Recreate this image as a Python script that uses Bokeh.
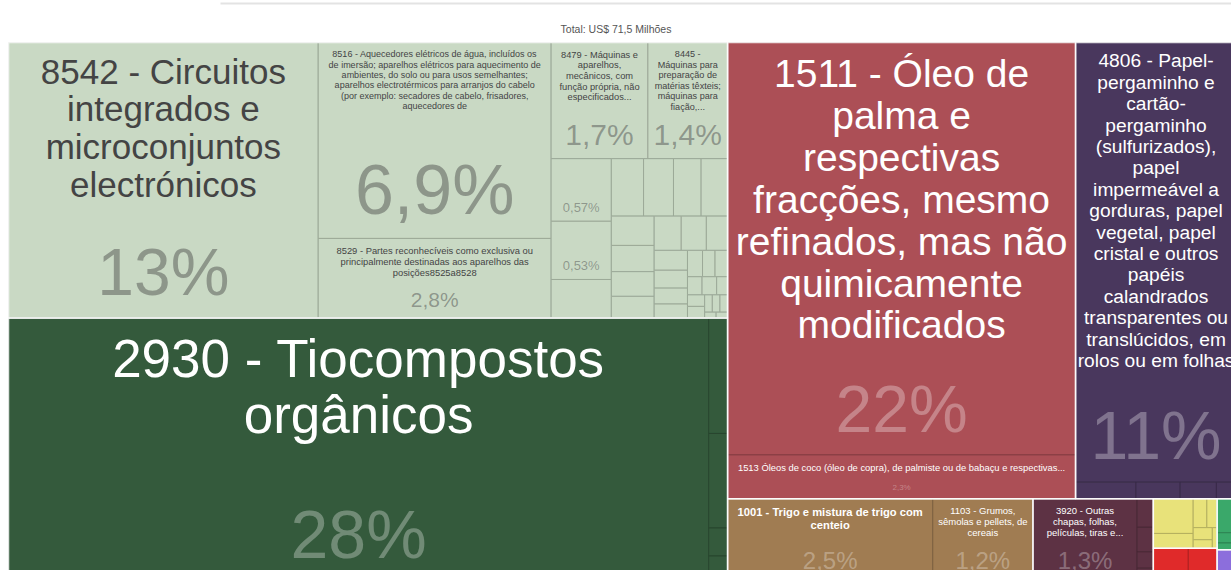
from bokeh.plotting import figure
from bokeh.models import ColumnDataSource, Range1d
from bokeh.core.properties import value
from bokeh.embed import file_html
from bokeh.resources import INLINE

TITLE = "Total: US$ 71,5 Milhões"

# ---------------- data (shares in % of total exports) ----------------
section_names = ["Máquinas", "Produtos Químicos", "Gorduras e Óleos", "Papel",
                 "Produtos Vegetais", "Plásticos e Borrachas", "Alimentos",
                 "Metais", "Têxteis", "Instrumentos"]
section_colors = ["#c9d9c4", "#345a3c", "#ac4f56", "#49375d",
                  "#a07c52", "#5d3244", "#e8e27a", "#e02a2a", "#3aa86a", "#8c6edc"]
section_light = [True, False, False, False, False, False, True, False, False, False]

maquinas_codes = ["8542", "8516", "8529", "8479", "8445"] + [""] * 31
maquinas_values = [12.9, 6.9, 2.8, 1.7, 1.4,
                   0.57, 0.53, 0.35, 0.28, 0.26, 0.24, 0.23, 0.19, 0.17, 0.16,
                   0.14, 0.14, 0.13, 0.11, 0.10, 0.09, 0.08, 0.07, 0.06, 0.05,
                   0.05, 0.04, 0.04, 0.03, 0.03, 0.03, 0.02, 0.02, 0.02, 0.01, 0.01]
quimicos_codes = ["2930", "", "", "", ""]
quimicos_values = [27.8, 0.33, 0.27, 0.08, 0.07]
gorduras_codes = ["1511", "1513"]
gorduras_values = [21.7, 2.3]
papel_codes = ["4806", "", "", "", ""]
papel_values = [10.7, 0.15, 0.11, 0.09, 0.05]
vegetais_codes = ["1001", "1103"]
vegetais_values = [2.54, 1.24]
plasticos_codes = ["3920", "", "", "", ""]
plasticos_values = [1.29, 0.07, 0.06, 0.04, 0.03]
alimentos_values = [0.21, 0.09, 0.06, 0.045, 0.035, 0.025, 0.015]
metais_values = [0.17, 0.14]
texteis_values = [0.10, 0.03, 0.02]
instrumentos_values = [0.09]

section_codes = [maquinas_codes, quimicos_codes, gorduras_codes, papel_codes,
                 vegetais_codes, plasticos_codes,
                 [""] * len(alimentos_values), [""] * len(metais_values),
                 [""] * len(texteis_values), [""] * len(instrumentos_values)]
section_values = [maquinas_values, quimicos_values, gorduras_values, papel_values,
                  vegetais_values, plasticos_values, alimentos_values,
                  metais_values, texteis_values, instrumentos_values]

label_lines = {
    "8542": ["8542 - Circuitos", "integrados e", "microconjuntos", "electrónicos"],
    "8516": ["8516 - Aquecedores elétricos de água, incluídos os",
             "de imersão; aparelhos elétricos para aquecimento de",
             "ambientes, do solo ou para usos semelhantes;",
             "aparelhos electrotérmicos para arranjos do cabelo",
             "(por exemplo: secadores de cabelo, frisadores,",
             "aquecedores de"],
    "8529": ["8529 - Partes reconhecíveis como exclusiva ou",
             "principalmente destinadas aos aparelhos das",
             "posições8525a8528"],
    "8479": ["8479 - Máquinas e", "aparelhos,", "mecânicos, com",
             "função própria, não", "especificados..."],
    "8445": ["8445 -", "Máquinas para", "preparação de", "matérias têxteis;",
             "máquinas para", "fiação,..."],
    "2930": ["2930 - Tiocompostos", "orgânicos"],
    "1511": ["1511 - Óleo de", "palma e", "respectivas", "fracções, mesmo",
             "refinados, mas não", "quimicamente", "modificados"],
    "1513": ["1513 Óleos de coco (óleo de copra), de palmiste ou de babaçu e respectivas..."],
    "4806": ["4806 - Papel-", "pergaminho e", "cartão-", "pergaminho",
             "(sulfurizados),", "papel", "impermeável a", "gorduras, papel",
             "vegetal, papel", "cristal e outros", "papéis", "calandrados",
             "transparentes ou", "translúcidos, em", "rolos ou em folhas"],
    "1001": ["1001 - Trigo e mistura de trigo com", "centeio"],
    "1103": ["1103 - Grumos,", "sêmolas e pellets, de", "cereais"],
    "3920": ["3920 - Outras", "chapas, folhas,", "películas, tiras e..."],
}

# ---------------- styles ----------------
label_size = {"8542": 35, "8516": 9, "8529": 9.4, "8479": 9.3, "8445": 9.1,
              "2930": 53, "1511": 39, "1513": 9.4, "4806": 19.2, "1001": 11.2,
              "1103": 9.5, "3920": 9.5}
label_gap = {"4806": 21.4}
label_bold = {"1001"}
share_size = {"8542": 66, "8516": 70, "8529": 21, "8479": 30, "8445": 30,
              "2930": 68, "1511": 66, "1513": 8, "4806": 68, "1001": 24,
              "1103": 24, "3920": 24}
FONT = "Liberation Sans"

W, H = 1231, 570
BOX = (8.0, 42.0, 1236.0, 580.0)   # treemap area (x0, y0, x1, y1), y grows downward


def squarify(vals, x0, y0, x1, y1, ratio=(1 + 5 ** 0.5) / 2):
    rects = [None] * len(vals)
    n = len(vals)
    remaining = float(sum(vals))
    i0 = i1 = 0
    while i0 < n:
        dx, dy = x1 - x0, y1 - y0
        s = vals[i1]
        i1 += 1
        mn = mx = s
        alpha = max(dy / dx, dx / dy) / (remaining * ratio)
        beta = s * s * alpha
        min_ratio = max(mx / beta, beta / mn)
        while i1 < n:
            nv = vals[i1]
            s2 = s + nv
            mn2, mx2 = min(mn, nv), max(mx, nv)
            beta = s2 * s2 * alpha
            r = max(mx2 / beta, beta / mn2)
            if r > min_ratio:
                break
            s, mn, mx, min_ratio = s2, mn2, mx2, r
            i1 += 1
        row = range(i0, i1)
        if dx < dy:
            yb = y0 + dy * s / remaining if i1 < n else y1
            xx = x0
            for k in row:
                w = dx * vals[k] / s
                rects[k] = (xx, y0, xx + w, yb)
                xx += w
            y0 = yb
        else:
            xr = x0 + dx * s / remaining if i1 < n else x1
            yy = y0
            for k in row:
                h = dy * vals[k] / s
                rects[k] = (x0, yy, xr, yy + h)
                yy += h
            x0 = xr
        remaining -= s
        i0 = i1
    return rects


def darker(hexcol, f=0.78):
    r, g, b = (int(hexcol[i:i + 2], 16) for i in (1, 3, 5))
    return "#%02x%02x%02x" % (int(r * f), int(g * f), int(b * f))


def fmt_share(v):
    if v >= 9.95:
        s = f"{v:.0f}"
    elif v >= 1:
        s = f"{v:.1f}"
    else:
        s = f"{v:.2f}"
    return s.replace(".", ",") + "%"


section_totals = [sum(v) for v in section_values]
sec_rects = squarify(section_totals, *BOX)

prod = dict(l=[], r=[], t=[], b=[], fill=[], line=[])
texts = {False: dict(x=[], y=[], text=[], size=[], color=[], alpha=[]),
         True: dict(x=[], y=[], text=[], size=[], color=[], alpha=[])}


def add_text(bold, x, y, t, size, color, alpha):
    d = texts[bold]
    d["x"].append(x); d["y"].append(y); d["text"].append(t)
    d["size"].append(f"{size}px"); d["color"].append(color); d["alpha"].append(alpha)


for si, (sr, codes, vals) in enumerate(zip(sec_rects, section_codes, section_values)):
    col = section_colors[si]
    light = section_light[si]
    rects = squarify(vals, *sr)
    for code, v, (x0, y0, x1, y1) in zip(codes, vals, rects):
        prod["l"].append(x0); prod["r"].append(x1)
        prod["t"].append(y0); prod["b"].append(y1)
        prod["fill"].append(col); prod["line"].append(darker(col))
        w, h = x1 - x0, y1 - y0
        cx = (x0 + x1) / 2
        tcol = "#444444" if light else "#ffffff"
        if code in label_lines:
            fs = label_size[code]
            gap = label_gap.get(code, fs * 1.05 + 0.9)
            y = y0 + 6 + 0.65 * fs
            for ln in label_lines[code]:
                add_text(code in label_bold, cx, y, ln, fs, tcol, 1.0)
                y += gap
        if code in share_size or (w >= 50 and w * h >= 3500):
            fs = share_size.get(code, 13)
            add_text(False, cx, y1 - (0.6 * fs + 6), fmt_share(v), fs, tcol,
                     0.45 if light else 0.3)

p = figure(width=W, height=H, output_backend="svg", toolbar_location=None,
           x_range=Range1d(0, W), y_range=Range1d(H, 0),
           x_axis_location=None, y_axis_location=None, min_border=0)
p.grid.visible = False
p.outline_line_color = None
p.background_fill_color = "white"
p.border_fill_color = "white"

# thin page separator above the chart
p.segment(x0=[220], y0=[3], x1=[W], y1=[3], line_color="#e3e3e3", line_width=2)

p.quad(left="l", right="r", top="t", bottom="b", fill_color="fill",
       line_color="line", line_width=1, source=ColumnDataSource(prod))
p.quad(left=[r[0] for r in sec_rects], right=[r[2] for r in sec_rects],
       top=[r[1] for r in sec_rects], bottom=[r[3] for r in sec_rects],
       fill_color=None, line_color="white", line_width=1.5, line_alpha=0.85)

for bold, d in texts.items():
    if d["x"]:
        p.text(x="x", y="y", text="text", text_font_size="size", text_color="color",
               text_alpha="alpha", text_align="center", text_baseline="middle",
               text_font=value(FONT), text_font_style="bold" if bold else "normal",
               source=ColumnDataSource(d))

p.text(x=[W / 2], y=[28], text=[TITLE], text_font_size="10.5px", text_color="#555555",
       text_align="center", text_baseline="middle", text_font=value(FONT))

open("out.html", "w").write(file_html(p, INLINE))
